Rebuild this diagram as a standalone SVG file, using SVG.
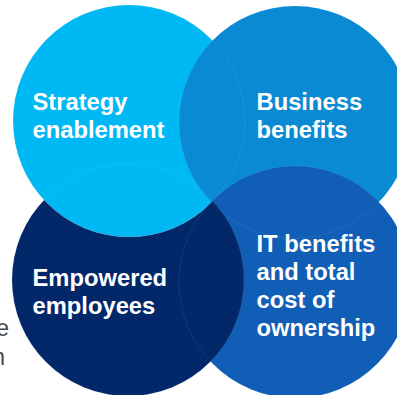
<svg xmlns="http://www.w3.org/2000/svg" width="397" height="395" viewBox="0 0 397 395">
<style>
.lbl{font-family:"Liberation Sans",Arial,sans-serif;font-weight:bold;font-size:23.75px;fill:#ffffff}
.cut{font-family:"Liberation Sans",Arial,sans-serif;font-size:23px;fill:#4a4a4a}
.seam{fill:none;stroke:#ffffff;stroke-opacity:0.07;stroke-width:1}
</style>
<defs>
<mask id="notLight" maskUnits="userSpaceOnUse" x="0" y="0" width="397" height="395">
<rect x="0" y="0" width="397" height="395" fill="#fff"/>
<circle cx="129" cy="121" r="116" fill="#000"/>
</mask>
</defs>
<rect width="397" height="395" fill="#ffffff"/>
<g id="cut-text">
<text class="cut" x="9" y="336" text-anchor="end">e</text>
<text class="cut" x="5" y="365" text-anchor="end">n</text>
</g>
<g id="strategy">
<circle cx="129" cy="121" r="116" fill="#00B8F4"/>
<text class="lbl" x="32.5" y="110">Strategy</text>
<text class="lbl" x="32.5" y="138">enablement</text>
</g>
<g id="business">
<circle cx="295" cy="122" r="116" fill="#0A8AD3"/>
<text class="lbl" x="256.5" y="110">Business</text>
<text class="lbl" x="256.5" y="138">benefits</text>
</g>
<g id="it">
<circle cx="295" cy="282" r="116" fill="#115EB6"/>
<text class="lbl" x="256.5" y="252">IT benefits</text>
<text class="lbl" x="256.5" y="280">and total</text>
<text class="lbl" x="256.5" y="308">cost of</text>
<text class="lbl" x="256.5" y="336">ownership</text>
</g>
<g id="empowered">
<circle cx="128" cy="280" r="116" fill="#02286A" mask="url(#notLight)"/>
<text class="lbl" x="32.5" y="286">Empowered</text>
<text class="lbl" x="32.5" y="314">employees</text>
</g>
<g id="connectors">
<circle class="seam" cx="129" cy="121" r="116"/>
<circle class="seam" cx="295" cy="122" r="116"/>
<circle class="seam" cx="295" cy="282" r="116"/>
<circle class="seam" cx="128" cy="280" r="116"/>
</g>
</svg>
